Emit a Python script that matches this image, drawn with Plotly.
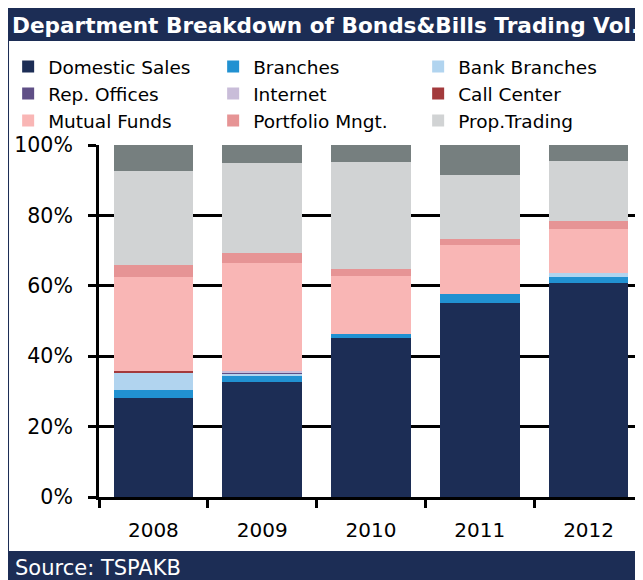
import plotly.graph_objects as go

years = ["2008", "2009", "2010", "2011", "2012"]

domestic_sales = [28.2, 32.8, 45.2, 55.0, 60.7]
branches = [2.3, 1.8, 1.2, 2.8, 1.8]
bank_branches = [4.6, 0.4, 0.0, 0.0, 1.2]
rep_offices = [0.0, 0.5, 0.0, 0.0, 0.0]
internet = [0.0, 0.3, 0.0, 0.0, 0.0]
call_center = [0.6, 0.0, 0.0, 0.0, 0.0]
mutual_funds = [26.8, 30.7, 16.3, 13.7, 12.3]
portfolio_mngt = [3.4, 2.8, 2.2, 1.7, 2.3]
prop_trading = [26.8, 25.6, 30.2, 18.3, 17.1]
other = [7.3, 5.1, 4.9, 8.5, 4.6]

pct_ticks = [0, 20, 40, 60, 80, 100]
pct_labels = [f"{v}%" for v in pct_ticks]

series = [
    ("Domestic Sales", domestic_sales, "#1c2d55", True),
    ("Branches", branches, "#2191d1", True),
    ("Bank Branches", bank_branches, "#b1d4ef", True),
    ("Rep. Offices", rep_offices, "#5f4f86", True),
    ("Internet", internet, "#c9bdd9", True),
    ("Call Center", call_center, "#a33a3c", True),
    ("Mutual Funds", mutual_funds, "#f9b6b5", True),
    ("Portfolio Mngt.", portfolio_mngt, "#e69495", True),
    ("Prop.Trading", prop_trading, "#d1d3d4", True),
    ("Other", other, "#767f7f", False),
]

navy = "#1c2d55"
font = "DejaVu Sans"

fig = go.Figure()
for name, vals, color, show in series:
    fig.add_trace(go.Bar(
        x=years, y=vals, name=name, showlegend=show,
        marker=dict(color=color, line=dict(width=0)),
    ))

# white panel inside the navy frame
fig.add_shape(type="rect", xref="paper", yref="paper", layer="below",
              x0=-0.1654, x1=1.1, y0=-0.1534, y1=1.2955,
              fillcolor="white", line=dict(width=0))

fig.add_annotation(text="Source: TSPAKB", xref="paper", yref="paper",
                   x=-0.158, y=-0.2017, xanchor="left", yanchor="middle",
                   showarrow=False, font=dict(family=font, size=21, color="white"))

# the page puts an 8px body margin round the plot, so everything sits 8px up/left
fig.update_layout(
    width=643, height=580,
    margin=dict(l=91, r=8, t=137, b=91, autoexpand=False),
    paper_bgcolor=navy, plot_bgcolor="white",
    barmode="stack", bargap=0.27,
    font=dict(family=font, size=20, color="black"),
    title=dict(text="<b>Department Breakdown of Bonds&Bills Trading Vol.</b>",
               x=4 / 643, xref="container", xanchor="left",
               y=1 - 17 / 580, yref="container", yanchor="middle",
               font=dict(family=font, size=21.6, color="white")),
    legend=dict(orientation="h", x=-0.167, y=1.2756, xanchor="left", yanchor="top",
                traceorder="normal", entrywidth=160, bgcolor="rgba(0,0,0,0)",
                font=dict(family=font, size=18.5, color="black")),
    xaxis=dict(showline=True, linecolor="black", linewidth=3,
               ticks="outside", tickson="boundaries", ticklen=8, tickwidth=3,
               tickcolor="black", showgrid=False, ticklabelstandoff=13,
               tickfont=dict(size=20)),
    yaxis=dict(range=[0, 100], tickvals=pct_ticks, ticktext=pct_labels,
               showline=True, linecolor="black", linewidth=3,
               ticks="outside", ticklen=8, tickwidth=3, tickcolor="black",
               showgrid=True, gridcolor="black", gridwidth=3, zeroline=False,
               ticklabelstandoff=11, tickfont=dict(size=20.5)),
)

fig.write_html("out.html")
